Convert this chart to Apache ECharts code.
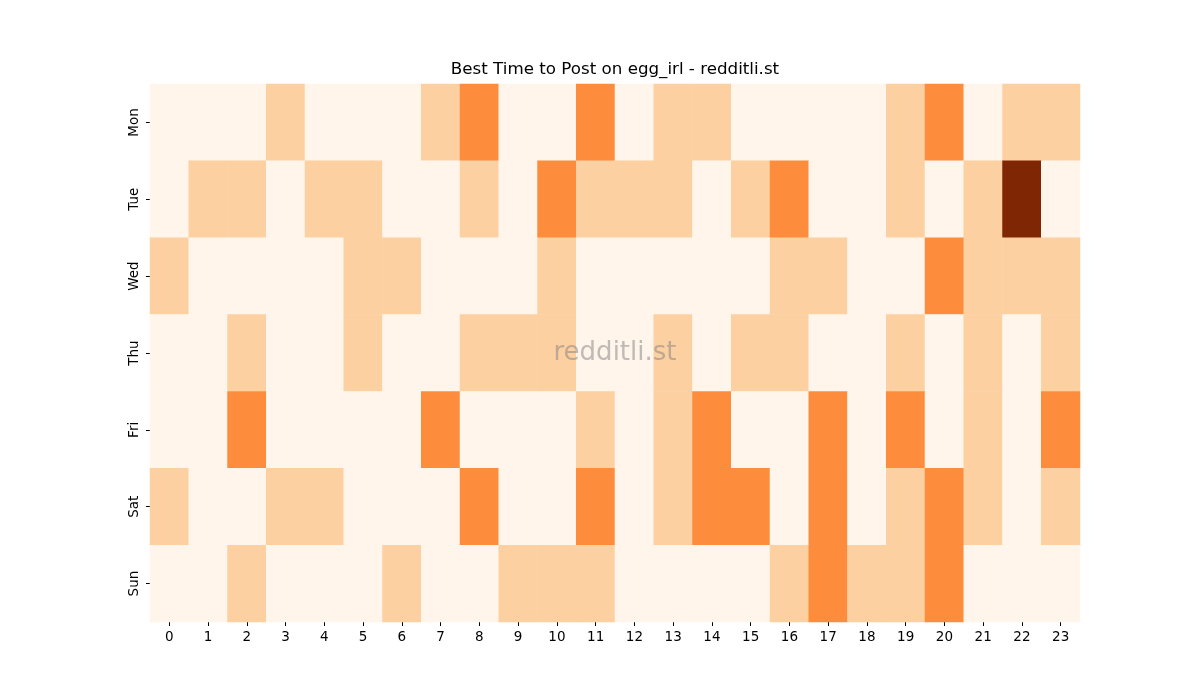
<!DOCTYPE html>
<html lang="en">
<head>
<meta charset="UTF-8">
<title>Best Time to Post on egg_irl</title>
<script src="https://cdn.jsdelivr.net/npm/echarts@6/dist/echarts.min.js"></script>
<style>
    html, body { margin: 0; padding: 0; background: #fff; }
    #chart { width: 1200px; height: 700px; }
</style>
</head>
<body>

<div id="chart"></div>

<script>
var hours = ['0','1','2','3','4','5','6','7','8','9','10','11','12','13','14','15','16','17','18','19','20','21','22','23'];
var days = ['Mon', 'Tue', 'Wed', 'Thu', 'Fri', 'Sat', 'Sun'];

// posting score per hour, one row per day
var mon = [0,0,0,1,0,0,0,1,2,0,0,2,0,1,1,0,0,0,0,1,2,0,1,1];
var tue = [0,1,1,0,1,1,0,0,1,0,2,1,1,1,0,1,2,0,0,1,0,1,4,0];
var wed = [1,0,0,0,0,1,1,0,0,0,1,0,0,0,0,0,1,1,0,0,2,1,1,1];
var thu = [0,0,1,0,0,1,0,0,1,1,1,0,0,1,0,1,1,0,0,1,0,1,0,1];
var fri = [0,0,2,0,0,0,0,2,0,0,0,1,0,1,2,0,0,2,0,2,0,1,0,2];
var sat = [1,0,0,1,1,0,0,0,2,0,0,2,0,1,2,2,0,2,0,1,2,1,0,1];
var sun = [0,0,1,0,0,0,1,0,0,1,1,1,0,0,0,0,1,2,1,1,2,0,0,0];

var rows = [mon, tue, wed, thu, fri, sat, sun];
var cells = [];
rows.forEach(function (row, d) {
    row.forEach(function (v, h) {
        cells.push([h, d, v]);
    });
});

var chart = echarts.init(document.getElementById('chart'));

var option = {
    animation: false,
    grid: {
        left: 150,
        right: 120,
        top: 84,
        bottom: 78,
        containLabel: false
    },
    xAxis: {
        type: 'category',
        data: hours,
        axisLine: { show: false },
        axisTick: { show: true, alignWithLabel: true, length: 4, lineStyle: { color: '#000' } },
        axisLabel: { fontFamily: 'DejaVu Sans', fontSize: 13.5, color: '#000', margin: 8, interval: 0 },
        splitArea: { show: false }
    },
    yAxis: {
        type: 'category',
        data: days,
        inverse: true,
        axisLine: { show: false },
        axisTick: { show: true, alignWithLabel: true, length: 4, lineStyle: { color: '#000' } },
        axisLabel: { fontFamily: 'DejaVu Sans', fontSize: 13.5, color: '#000', rotate: 90, margin: 9 },
        splitArea: { show: false }
    },
    visualMap: {
        show: false,
        type: 'continuous',
        min: 0,
        max: 4,
        dimension: 2,
        inRange: {
            color: ['#fff5eb', '#fee6ce', '#fdd0a2', '#fdae6b', '#fd8d3c',
                    '#f16913', '#d94801', '#a63603', '#7f2704']
        }
    },
    series: [{
        type: 'heatmap',
        data: cells,
        itemStyle: { borderWidth: 0 },
        emphasis: { disabled: true }
    }],
    graphic: [{
        type: 'text',
        x: 615,
        y: 70,
        z: 100,
        style: {
            text: 'Best Time to Post on egg_irl - redditli.st',
            fontFamily: 'DejaVu Sans',
            fontSize: 16.7,
            fill: '#000',
            align: 'center',
            verticalAlign: 'middle'
        }
    }, {
        type: 'text',
        x: 615,
        y: 353,
        z: 100,
        style: {
            text: 'redditli.st',
            fontFamily: 'DejaVu Sans',
            fontSize: 26,
            fill: 'rgba(128,128,128,0.5)',
            align: 'center',
            verticalAlign: 'middle'
        }
    }]
};

chart.setOption(option);
</script>

</body>
</html>
